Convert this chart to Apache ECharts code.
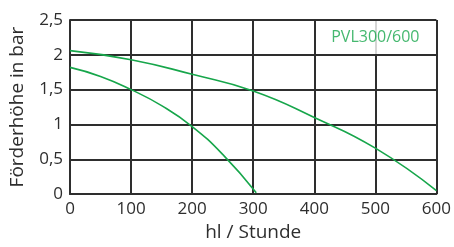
<!DOCTYPE html>
<html><head><meta charset="utf-8">
<script src="https://cdn.jsdelivr.net/npm/echarts@6/dist/echarts.min.js"></script>
<style>html,body{margin:0;padding:0;background:#fff}#c{width:454px;height:247px}</style>
</head><body><div id="c"></div>
<script>
const xTicks = [0, 100, 200, 300, 400, 500, 600];
const yTicks = [0, 0.5, 1, 1.5, 2, 2.5];
const curveLarge = [[0,2.06],[100,1.93],[200,1.72],[300,1.48],[400,1.1],[500,0.66],[600,0.05]];
const curveSmall = [[0,1.82],[50,1.69],[100,1.5],[150,1.27],[200,0.97],[250,0.57],[305,0.02]];
const modelLabel = [[500, 2.25, 'PVL300/600']];
const green = '#17a64b';
const dark = '#2e2e2e';
const font = 'Open Sans';
const chart = echarts.init(document.getElementById('c'));
chart.setOption({
  animation:false,
  grid:{left:69,right:17,top:20,bottom:47},
  xAxis:{type:'value',min:0,max:600,interval:100,
    name:'hl / Stunde',nameLocation:'middle',nameGap:21,
    nameTextStyle:{color:dark,fontSize:19,fontFamily:font,verticalAlign:'top'},
    axisLine:{show:true,lineStyle:{color:dark,width:2}},
    axisTick:{show:false},
    axisLabel:{color:dark,fontSize:17,fontFamily:font,margin:7},
    splitLine:{show:true,lineStyle:{color:dark,width:2}}},
  yAxis:{type:'value',min:0,max:2.5,interval:0.5,
    name:'Förderhöhe in bar',nameLocation:'middle',nameGap:43,
    nameTextStyle:{color:dark,fontSize:19,fontFamily:font},
    axisLine:{show:true,lineStyle:{color:dark,width:2}},
    axisTick:{show:false},
    axisLabel:{color:dark,fontSize:17,fontFamily:font,margin:7,
      formatter:v=>String(v).replace('.',',')},
    splitLine:{show:true,lineStyle:{color:dark,width:2}}},
  series:[
    {type:'line',data:curveLarge,smooth:true,showSymbol:false,lineStyle:{color:green,width:1.6}},
    {type:'line',data:curveSmall,smooth:true,showSymbol:false,lineStyle:{color:green,width:1.6}},
    {type:'scatter',data:modelLabel,symbol:'rect',symbolSize:[110,33],z:5,
      itemStyle:{color:'#fff'},silent:true,
      label:{show:true,position:'inside',formatter:p=>p.data[2],color:green,fontSize:16,fontFamily:font}}
  ]
});
</script></body></html>
